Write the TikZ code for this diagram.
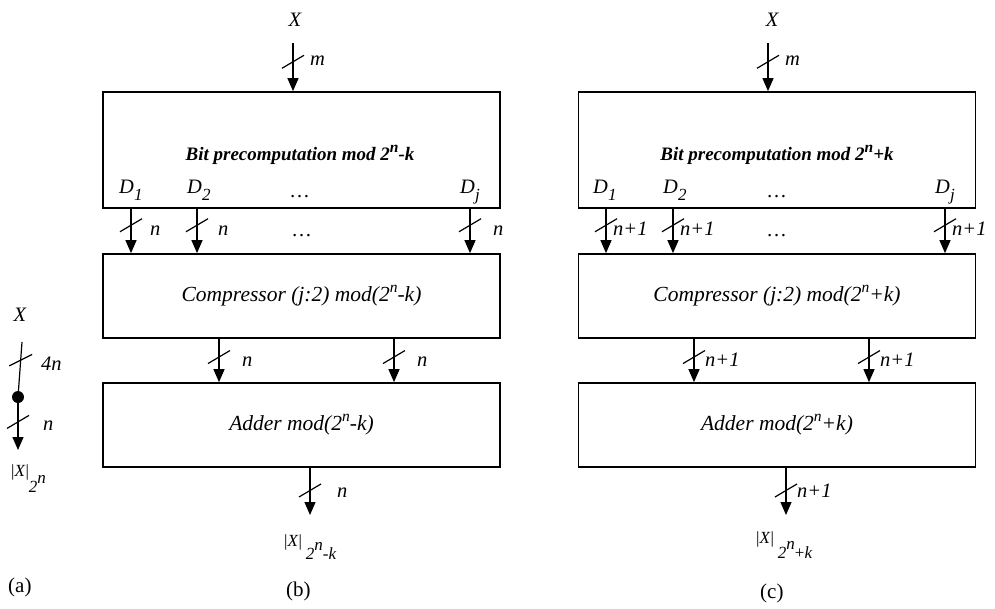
\documentclass[tikz,border=0pt]{standalone}
\usepackage{fontspec}
\setmainfont{Liberation Serif}
\usetikzlibrary{arrows.meta,decorations.markings}
\tikzset{
  box/.style={draw, line width=1.7pt, minimum width=397pt, minimum height=84pt, inner sep=0pt,
    font=\fontsize{21.5}{21.5}\selectfont\itshape},
  bus/.style={line width=1.2pt, -{Triangle[width=11pt,length=13pt]}},
  wire/.style={line width=1.2pt},
  slashat/.style={postaction={decorate}, decoration={markings,
      mark=at position #1 with {\draw[-, line width=1.2pt] (6.5pt,-11pt) -- (-6.5pt,11pt);}}},
  lbl/.style={font=\fontsize{20.5}{20.5}\selectfont\itshape, inner sep=0pt, anchor=base west},
  boldlbl/.style={font=\fontsize{19}{19}\selectfont\bfseries\itshape, inner sep=0pt},
  captionlbl/.style={font=\fontsize{21}{21}\selectfont, inner sep=0pt},
  outlbl/.style={font=\fontsize{17}{17}\selectfont, inner sep=0pt, anchor=base west},
  dotn/.style={circle, fill=black, inner sep=0pt, minimum size=12pt},
}
\newcommand{\Dsub}[1]{\textit{D}\raisebox{-7pt}{\fontsize{17}{17}\selectfont\textit{#1}}}
\newcommand{\SupN}[1]{\raisebox{0.42em}{\fontsize{15.5}{15.5}\selectfont #1}}
\begin{document}
\begin{tikzpicture}[x=1pt,y=-1pt]
\useasboundingbox (0,0) rectangle (995,608);

% ================= (a) =================
\node[lbl, anchor=center] (Xa) at (20,315) {X};
\coordinate (a1) at (22,342);
\node[dotn] (dot) at (18,397) {};
\coordinate (a2) at (18,450);
\draw[wire, slashat=0.33] (a1) -- (dot.center);
\draw[bus, slashat=0.47] (dot.center) -- (a2);
\node[lbl] (la1) at (41,370) {4n};
\node[lbl] (la2) at (43,430) {n};
\node[outlbl] (outa) at (11,476) {|\textit{X}|\raisebox{-16pt}{\textit{2}\raisebox{9pt}{\textit{n}}}};
\node[captionlbl, anchor=base west] (capa) at (8,592) {(a)};

% ================= (b) =================
\node[box, minimum height=116pt] (pb) at (301.5,150) {};
\node[box] (cb) at (301.5,296) {Compressor (j:2) mod(2\SupN{n}-k)};
\node[box] (ab) at (301.5,425) {Adder mod(2\SupN{n}-k)};
\node[boldlbl] (pbt) at (300,155) {Bit precomputation mod 2\SupN{n}-k};
\node[lbl] (bD1) at (119,193) {\Dsub{1}};
\node[lbl] (bD2) at (187,193) {\Dsub{2}};
\node[lbl] (bDj) at (460,193) {\Dsub{j}};
\node[lbl, anchor=base] (bdots1) at (300,197) {\ldots};
\node[lbl, anchor=base] (bdots2) at (302,236) {\ldots};

\node[lbl, anchor=center] (Xb) at (295,20) {X};
\coordinate (bin) at (293,43);
\draw[bus, slashat=0.39] (bin) -- (pb.north -| bin);
\node[lbl] (bm) at (310,65) {m};

\coordinate (bx1) at (131,0);
\coordinate (bx2) at (197,0);
\coordinate (bxj) at (470,0);
\draw[bus, slashat=0.37] (pb.south -| bx1) -- (cb.north -| bx1);
\draw[bus, slashat=0.37] (pb.south -| bx2) -- (cb.north -| bx2);
\draw[bus, slashat=0.37] (pb.south -| bxj) -- (cb.north -| bxj);
\node[lbl] (bn1) at (150,235) {n};
\node[lbl] (bn2) at (218,235) {n};
\node[lbl] (bnj) at (493,235) {n};

\coordinate (bc1) at (219,0);
\coordinate (bc2) at (394,0);
\draw[bus, slashat=0.42] (cb.south -| bc1) -- (ab.north -| bc1);
\draw[bus, slashat=0.42] (cb.south -| bc2) -- (ab.north -| bc2);
\node[lbl] (bn3) at (242,366) {n};
\node[lbl] (bn4) at (417,366) {n};

\coordinate (bout) at (310,515);
\draw[bus, slashat=0.48] (ab.south -| bout) -- (bout);
\node[lbl] (bn5) at (337,497) {n};
\node[outlbl] (outb) at (284,546) {|\textit{X}|\hspace{4pt}\raisebox{-13pt}{\textit{2}\raisebox{9pt}{\textit{n}}-\textit{k}}};
\node[captionlbl, anchor=base west] (capb) at (286,596) {(b)};

% ================= (c) =================
\node[box, minimum height=116pt] (pc) at (777,150) {};
\node[box] (cc) at (777,296) {Compressor (j:2) mod(2\SupN{n}+k)};
\node[box] (ac) at (777,425) {Adder mod(2\SupN{n}+k)};
\node[boldlbl] (pct) at (777,155) {Bit precomputation mod 2\SupN{n}+k};
\node[lbl] (cD1) at (593,193) {\Dsub{1}};
\node[lbl] (cD2) at (663,193) {\Dsub{2}};
\node[lbl] (cDj) at (935,193) {\Dsub{j}};
\node[lbl, anchor=base] (cdots1) at (777,197) {\ldots};
\node[lbl, anchor=base] (cdots2) at (777,236) {\ldots};

\node[lbl, anchor=center] (Xc) at (772,20) {X};
\coordinate (cin) at (768,43);
\draw[bus, slashat=0.39] (cin) -- (pc.north -| cin);
\node[lbl] (cm) at (785,65) {m};

\coordinate (cx1) at (606,0);
\coordinate (cx2) at (673,0);
\coordinate (cxj) at (945,0);
\draw[bus, slashat=0.37] (pc.south -| cx1) -- (cc.north -| cx1);
\draw[bus, slashat=0.37] (pc.south -| cx2) -- (cc.north -| cx2);
\draw[bus, slashat=0.37] (pc.south -| cxj) -- (cc.north -| cxj);
\node[lbl] (cn1) at (613,235) {n+1};
\node[lbl] (cn2) at (680,235) {n+1};
\node[lbl] (cnj) at (952,235) {n+1};

\coordinate (cc1) at (694,0);
\coordinate (cc2) at (869,0);
\draw[bus, slashat=0.42] (cc.south -| cc1) -- (ac.north -| cc1);
\draw[bus, slashat=0.42] (cc.south -| cc2) -- (ac.north -| cc2);
\node[lbl] (cn3) at (705,366) {n+1};
\node[lbl] (cn4) at (880,366) {n+1};

\coordinate (cout) at (786,515);
\draw[bus, slashat=0.48] (ac.south -| cout) -- (cout);
\node[lbl] (cn5) at (797,497) {n+1};
\node[outlbl] (outc) at (756,543) {|\textit{X}|\hspace{4pt}\raisebox{-15pt}{\textit{2}\raisebox{9pt}{\textit{n}}+\textit{k}}};
\node[captionlbl, anchor=base west] (capc) at (760,598) {(c)};
\end{tikzpicture}
\end{document}
